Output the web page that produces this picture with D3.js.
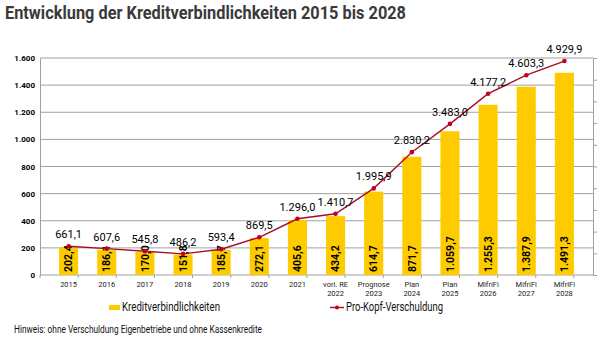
<!DOCTYPE html>
<html>
<head>
<meta charset="utf-8">
<script src="https://cdn.jsdelivr.net/npm/d3@7"></script>
<style>
  body { margin: 0; background: #fff; }
  text { font-family: Roboto, "Open Sans", sans-serif; }
</style>
</head>
<body>
<div id="chart"></div>
<script>
// Data
const catTop = ["2015", "2016", "2017", "2018", "2019", "2020", "2021", "vorl. RE", "Prognose", "Plan", "Plan", "MifriFi", "MifriFi", "MifriFi"];
const catBottom = ["", "", "", "", "", "", "", "2022", "2023", "2024", "2025", "2026", "2027", "2028"];
const kredit = [202.4, 186.1, 170.0, 151.8, 185.7, 272.1, 405.6, 434.2, 614.7, 871.7, 1059.7, 1255.3, 1387.9, 1491.3];
const proKopf = [661.1, 607.6, 545.8, 486.2, 593.4, 869.5, 1296.0, 1410.7, 1995.9, 2830.2, 3483.0, 4177.2, 4603.3, 4929.9];
const leftTicks = [0, 200, 400, 600, 800, 1000, 1200, 1400, 1600];

const width = 600, height = 338;
const margin = {top: 58, bottom: 63, left: 40, right: 7};

const de = d3.formatLocale({decimal: ",", thousands: ".", grouping: [3], currency: ["", " €"]});
const fmt1 = de.format(",.1f");
const fmt0 = de.format(",.0f");

const svg = d3.select('#chart')
    .append('svg')
    .attr('width', width)
    .attr('height', height);

const xScale = d3.scaleBand()
    .domain(d3.range(kredit.length))
    .range([margin.left, width - margin.right])
    .padding(0.5);

const yScale = d3.scaleLinear()
    .domain([0, 1600])
    .range([height - margin.bottom, margin.top]);

const y2Scale = d3.scaleLinear()
    .domain([0, 5000])
    .range([height - margin.bottom, margin.top]);

// Title
svg.append('text')
    .attr('x', 5)
    .attr('y', 19)
    .attr('textLength', 401)
    .attr('lengthAdjust', 'spacingAndGlyphs')
    .text('Entwicklung der Kreditverbindlichkeiten 2015 bis 2028')
    .style('font-size', '19px')
    .style('font-weight', 'bold')
    .style('fill', '#3a3a3a');

// Gridlines
svg.append('g')
    .selectAll('line')
    .data(leftTicks.slice(1))
    .enter().append('line')
    .attr('x1', margin.left)
    .attr('x2', width - margin.right)
    .attr('y1', d => yScale(d))
    .attr('y2', d => yScale(d))
    .attr('stroke', '#a0a0a0')
    .attr('stroke-width', 1);

// Left axis
const yAxis = svg.append('g')
    .attr('transform', `translate(${margin.left},0)`)
    .call(d3.axisLeft(yScale).tickValues(leftTicks).tickFormat(fmt0).tickSize(0).tickPadding(5));
yAxis.select('.domain').attr('stroke', '#a0a0a0');
yAxis.selectAll('text').style('font-size', '8px').style('font-weight', 'bold').style('fill', '#000');

// Right axis (no labels)
const y2Axis = svg.append('g')
    .attr('transform', `translate(${width - margin.right},0)`)
    .call(d3.axisRight(y2Scale).tickValues(d3.range(0, 5001, 500)).tickFormat('').tickSize(4));
y2Axis.selectAll('line, path').attr('stroke', '#a0a0a0');

// Bottom axis
const xAxis = svg.append('g')
    .attr('transform', `translate(0,${height - margin.bottom})`);
xAxis.append('line')
    .attr('x1', margin.left)
    .attr('x2', width - margin.right)
    .attr('stroke', '#a0a0a0');
xAxis.selectAll('.tk')
    .data(d3.range(kredit.length + 1))
    .enter().append('line')
    .attr('x1', i => margin.left + i * xScale.step())
    .attr('x2', i => margin.left + i * xScale.step())
    .attr('y1', 0)
    .attr('y2', 3)
    .attr('stroke', '#a0a0a0');
const catLabels = xAxis.selectAll('.cl')
    .data(d3.range(kredit.length))
    .enter().append('text')
    .attr('x', i => xScale(i) + xScale.bandwidth() / 2)
    .attr('y', 12)
    .style('text-anchor', 'middle')
    .style('font-size', '7.5px')
    .style('fill', '#222');
catLabels.append('tspan').text(i => catTop[i]);
catLabels.append('tspan')
    .attr('x', i => xScale(i) + xScale.bandwidth() / 2)
    .attr('dy', 9)
    .text(i => catBottom[i]);

// Bars
svg.append('g')
    .selectAll('rect')
    .data(kredit)
    .enter().append('rect')
    .attr('x', (d, i) => xScale(i))
    .attr('y', d => yScale(d))
    .attr('width', xScale.bandwidth())
    .attr('height', d => yScale(0) - yScale(d))
    .attr('fill', '#fecb00');

// Bar labels (rotated)
svg.append('g')
    .selectAll('text')
    .data(kredit)
    .enter().append('text')
    .attr('transform', (d, i) => `translate(${xScale(i) + xScale.bandwidth() / 2},${yScale(0) - 3}) rotate(-90)`)
    .attr('dy', '0.35em')
    .text(d => fmt1(d))
    .style('font-size', '10.5px')
    .style('font-weight', 'bold')
    .style('fill', '#000');

// Line
const line = d3.line()
    .x((d, i) => xScale(i) + xScale.bandwidth() / 2)
    .y(d => y2Scale(d));

svg.append('path')
    .datum(proKopf)
    .attr('d', line)
    .attr('fill', 'none')
    .attr('stroke', '#a50f25')
    .attr('stroke-width', 1.4);

svg.append('g')
    .selectAll('circle')
    .data(proKopf)
    .enter().append('circle')
    .attr('cx', (d, i) => xScale(i) + xScale.bandwidth() / 2)
    .attr('cy', d => y2Scale(d))
    .attr('r', 2.3)
    .attr('fill', '#c00020');

svg.append('g')
    .selectAll('text')
    .data(proKopf)
    .enter().append('text')
    .attr('x', (d, i) => xScale(i) + xScale.bandwidth() / 2)
    .attr('y', d => y2Scale(d) - 8)
    .text(d => fmt1(d))
    .style('text-anchor', 'middle')
    .style('font-size', '11px')
    .style('fill', '#000');

// Legend
svg.append('rect')
    .attr('x', 109)
    .attr('y', 305)
    .attr('width', 11)
    .attr('height', 5)
    .attr('fill', '#fecb00');
svg.append('text')
    .attr('x', 122)
    .attr('y', 311)
    .attr('textLength', 98)
    .attr('lengthAdjust', 'spacingAndGlyphs')
    .text('Kreditverbindlichkeiten')
    .style('font-size', '13px')
    .style('fill', '#111');

svg.append('line')
    .attr('x1', 330)
    .attr('x2', 344)
    .attr('y1', 307.5)
    .attr('y2', 307.5)
    .attr('stroke', '#a50f25')
    .attr('stroke-width', 1.4);
svg.append('circle')
    .attr('cx', 337)
    .attr('cy', 307.5)
    .attr('r', 2)
    .attr('fill', '#c00020');
svg.append('text')
    .attr('x', 346)
    .attr('y', 311)
    .attr('textLength', 97)
    .attr('lengthAdjust', 'spacingAndGlyphs')
    .text('Pro-Kopf-Verschuldung')
    .style('font-size', '13px')
    .style('fill', '#111');

// Note
svg.append('text')
    .attr('x', 14)
    .attr('y', 333)
    .attr('textLength', 248)
    .attr('lengthAdjust', 'spacingAndGlyphs')
    .text('Hinweis: ohne Verschuldung Eigenbetriebe und ohne Kassenkredite')
    .style('font-size', '11.5px')
    .style('fill', '#111');
</script>
</body>
</html>
